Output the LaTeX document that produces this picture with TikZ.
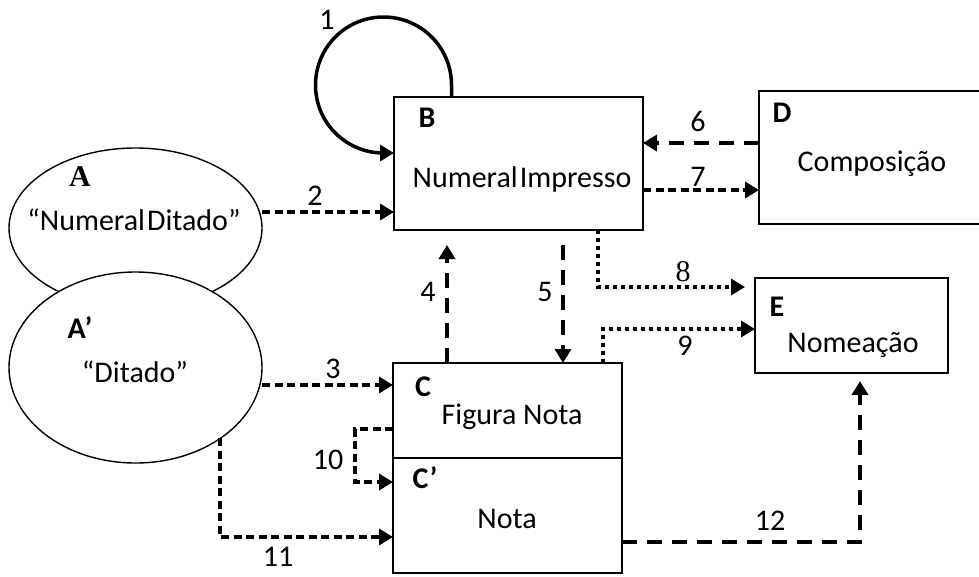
\documentclass[tikz,border=0pt]{standalone}
\usepackage{fontspec}
\setmainfont{Carlito}
\newfontfamily\serifA{Liberation Serif}
\usetikzlibrary{arrows.meta,shapes.geometric}
\begin{document}
\begin{tikzpicture}[x=1pt,y=-1pt,
  every node/.style={inner sep=0pt, outer sep=0pt},
  txt/.style={font=\fontsize{30}{34}\selectfont},
  tag/.style={font=\fontsize{30}{34}\selectfont\bfseries},
  boxn/.style={draw, line width=1.4pt, rectangle},
  ell/.style={draw, line width=1.4pt, ellipse, fill=white},
  tip/.style={-{Triangle[length=14pt,width=16pt]}},
  shortdash/.style={line width=4pt, dash pattern=on 8pt off 4.5pt, tip},
  longdash/.style={line width=4pt, dash pattern=on 15pt off 10pt, tip},
  dotline/.style={line width=4pt, dash pattern=on 4pt off 4pt, tip},
  loopline/.style={line width=3.5pt, tip}
]
\useasboundingbox (0,0) rectangle (979,576);
\clip (0,0) rectangle (979,576);

% ellipses
\node[ell, minimum width=253pt, minimum height=160pt] (A) at (135.5,228) {};
\node[ell, minimum width=253pt, minimum height=191pt] (Ap) at (135.5,367.5) {};

% boxes
\node[boxn, minimum width=249pt, minimum height=133pt] (B) at (518.5,163.5) {};
\node[boxn, minimum width=229pt, minimum height=210pt] (C) at (507.5,468) {};
\node[boxn, minimum width=240pt, minimum height=133pt] (D) at (879,157.5) {};
\node[boxn, minimum width=193pt, minimum height=95pt] (E) at (851.5,325.5) {};
\coordinate (cdiv) at (0,458);
\draw[line width=1.4pt] (C.west |- cdiv) -- (C.east |- cdiv);

% texts
\node[font=\fontsize{30}{34}\selectfont\serifA\bfseries] (tA) at (80,177) {A};
\node[txt] (tAt) at (134,220) {“Numeral\hspace{2pt}Ditado”};
\node[tag] (tAp) at (80,328) {A’};
\node[txt] (tApt) at (135,372) {“Ditado”};
\node[tag] (tB) at (427,118) {B};
\node[txt] (tBt) at (522,179) {Numeral\hspace{2pt}Impresso};
\node[tag] (tC) at (423,387) {C};
\node[txt] (tCt) at (512,417) {Figura Nota};
\node[tag] (tCp) at (425,478) {C’};
\node[txt] (tCpt) at (507,519) {Nota};
\node[tag] (tD) at (782,113) {D};
\node[txt] (tDt) at (872,164) {Composição};
\node[tag] (tE) at (777,307) {E};
\node[txt] (tEt) at (853,345) {Nomeação};

% number labels
\node[txt] (n1) at (327,20) {1};
\node[txt] (n2) at (315,196) {2};
\node[txt] (n3) at (333,369) {3};
\node[txt] (n4) at (428,292) {4};
\node[txt] (n5) at (545,292) {5};
\node[txt] (n6) at (698,121) {6};
\node[txt] (n7) at (698,177) {7};
\node[font=\fontsize{30}{34}\selectfont\serifA] (n8) at (683,272) {8};
\node[txt] (n9) at (685,346) {9};
\node[txt] (n10) at (328,460) {10};
\node[txt] (n11) at (278,557) {11};
\node[txt] (n12) at (770,521) {12};

% helper coordinates
\coordinate (y1) at (0,153);
\coordinate (y2) at (0,212);
\coordinate (y3) at (0,385);
\coordinate (x4) at (447,0);
\coordinate (x5) at (563,0);
\coordinate (y6) at (0,143);
\coordinate (y7) at (0,190);
\coordinate (x8) at (598,0);
\coordinate (y8) at (0,287);
\coordinate (x9) at (603,0);
\coordinate (y9) at (0,329);
\coordinate (y10a) at (0,429);
\coordinate (k10) at (355,429);
\coordinate (y10b) at (0,482);
\coordinate (s11) at (220,438);
\coordinate (y11) at (0,537);
\coordinate (y12) at (0,542);
\coordinate (x12) at (860,0);
\coordinate (loopstart) at (451.5,97);

% connectors
\draw[loopline] (loopstart) -- (451.5,85)
  .. controls (451.5,47.4) and (421.1,17) .. (383.5,17)
  .. controls (345.9,17) and (315.5,47.4) .. (315.5,85)
  .. controls (315.5,122.6) and (345.9,153) .. (383.5,153)
  -- (B.west |- y1);
\draw[shortdash] (A.east |- y2) -- (B.west |- y2);
\draw[shortdash] (Ap.east |- y3) -- (C.west |- y3);
\draw[longdash, shorten >=15pt] (C.north -| x4) -- (B.south -| x4);
\draw[longdash, shorten <=15pt] (B.south -| x5) -- (C.north -| x5);
\draw[longdash] (D.west |- y6) -- (B.east |- y6);
\draw[shortdash] (B.east |- y7) -- (D.west |- y7);
\draw[dotline, shorten >=10pt] (B.south -| x8) |- (E.west |- y8);
\draw[dotline] (C.north -| x9) |- (E.west |- y9);
\draw[shortdash] (C.west |- y10a) -- (k10) |- (C.west |- y10b);
\draw[shortdash] (s11) |- (C.west |- y11);
\draw[longdash, shorten >=8pt] (C.east |- y12) -| (E.south -| x12);
\end{tikzpicture}
\end{document}
